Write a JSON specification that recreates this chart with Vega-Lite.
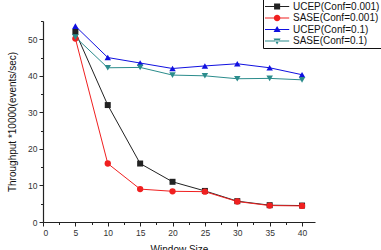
{
  "$schema": "https://vega.github.io/schema/vega-lite/v6.json",
  "width": 272,
  "height": 201,
  "autosize": {"type": "none"},
  "padding": {"left": 43, "top": 21, "right": 66, "bottom": 28},
  "background": "white",
  "config": {
    "view": {"stroke": null},
    "font": "Liberation Sans",
    "legend": {"strokeColor": "#111", "fillColor": "white", "strokeWidth": 1},
    "axis": {
      "grid": false,
      "domainColor": "#222",
      "domainWidth": 1.2,
      "tickColor": "#222",
      "labelColor": "#333",
      "labelFontSize": 8.5,
      "titleFontSize": 10,
      "titleFontWeight": "normal",
      "titleColor": "#111"
    }
  },
  "data": {
    "values": [
      {"series": "UCEP(Conf=0.001)", "window": 5, "throughput": 52.0},
      {"series": "UCEP(Conf=0.001)", "window": 10, "throughput": 32.0},
      {"series": "UCEP(Conf=0.001)", "window": 15, "throughput": 16.0},
      {"series": "UCEP(Conf=0.001)", "window": 20, "throughput": 11.0},
      {"series": "UCEP(Conf=0.001)", "window": 25, "throughput": 8.5},
      {"series": "UCEP(Conf=0.001)", "window": 30, "throughput": 5.7},
      {"series": "UCEP(Conf=0.001)", "window": 35, "throughput": 4.6},
      {"series": "UCEP(Conf=0.001)", "window": 40, "throughput": 4.5},
      {"series": "SASE(Conf=0.001)", "window": 5, "throughput": 50.2},
      {"series": "SASE(Conf=0.001)", "window": 10, "throughput": 16.0},
      {"series": "SASE(Conf=0.001)", "window": 15, "throughput": 9.0},
      {"series": "SASE(Conf=0.001)", "window": 20, "throughput": 8.4},
      {"series": "SASE(Conf=0.001)", "window": 25, "throughput": 8.3},
      {"series": "SASE(Conf=0.001)", "window": 30, "throughput": 5.6},
      {"series": "SASE(Conf=0.001)", "window": 35, "throughput": 4.5},
      {"series": "SASE(Conf=0.001)", "window": 40, "throughput": 4.4},
      {"series": "UCEP(Conf=0.1)", "window": 5, "throughput": 53.6},
      {"series": "UCEP(Conf=0.1)", "window": 10, "throughput": 45.0},
      {"series": "UCEP(Conf=0.1)", "window": 15, "throughput": 43.5},
      {"series": "UCEP(Conf=0.1)", "window": 20, "throughput": 42.0},
      {"series": "UCEP(Conf=0.1)", "window": 25, "throughput": 42.7},
      {"series": "UCEP(Conf=0.1)", "window": 30, "throughput": 43.3},
      {"series": "UCEP(Conf=0.1)", "window": 35, "throughput": 42.2},
      {"series": "UCEP(Conf=0.1)", "window": 40, "throughput": 40.3},
      {"series": "SASE(Conf=0.1)", "window": 5, "throughput": 50.6},
      {"series": "SASE(Conf=0.1)", "window": 10, "throughput": 42.2},
      {"series": "SASE(Conf=0.1)", "window": 15, "throughput": 42.3},
      {"series": "SASE(Conf=0.1)", "window": 20, "throughput": 40.2},
      {"series": "SASE(Conf=0.1)", "window": 25, "throughput": 40.0},
      {"series": "SASE(Conf=0.1)", "window": 30, "throughput": 39.2},
      {"series": "SASE(Conf=0.1)", "window": 35, "throughput": 39.3},
      {"series": "SASE(Conf=0.1)", "window": 40, "throughput": 38.9}
    ]
  },
  "resolve": {"axis": {"x": "independent", "y": "independent"}},
  "layer": [
    {
      "mark": {"type": "line", "strokeWidth": 1},
      "encoding": {
        "x": {
          "field": "window", "type": "quantitative",
          "scale": {"domain": [0, 42], "nice": false, "zero": false},
          "axis": {"orient": "bottom", "values": [0, 5, 10, 15, 20, 25, 30, 35, 40], "tickSize": 4, "labelPadding": 2, "title": "Window Size", "titlePadding": 8}
        },
        "y": {
          "field": "throughput", "type": "quantitative",
          "scale": {"domain": [0, 55], "nice": false},
          "axis": {"orient": "left", "values": [0, 10, 20, 30, 40, 50], "tickSize": 4, "labelPadding": 2, "title": "Throughput *10000(events/sec)", "titlePadding": 10}
        },
        "color": {
          "field": "series", "type": "nominal",
          "scale": {
            "domain": ["UCEP(Conf=0.001)", "SASE(Conf=0.001)", "UCEP(Conf=0.1)", "SASE(Conf=0.1)"],
            "range": ["#222222", "#f02020", "#1010e0", "#2b8c8c"]
          },
          "legend": {
            "title": null,
            "orient": "none",
            "legendX": 220,
            "legendY": -22,
            "direction": "vertical",
            "strokeColor": "#111",
            "fillColor": "white",
            "padding": 2,
            "cornerRadius": 0,
            "symbolSize": 121,
            "symbolStrokeWidth": 0,
            "labelFontSize": 10,
            "labelColor": "#111",
            "labelOffset": 17,
            "rowPadding": 0.5
          }
        },
        "detail": {"field": "series"}
      }
    },
    {
      "transform": [{"filter": "false"}],
      "mark": {"type": "point", "filled": true, "opacity": 1},
      "encoding": {
        "x": {
          "field": "window", "type": "quantitative",
          "axis": {"orient": "bottom", "values": [2.5, 7.5, 12.5, 17.5, 22.5, 27.5, 32.5, 37.5], "tickSize": 2.5, "labels": false, "domain": false, "title": null}
        },
        "y": {
          "field": "throughput", "type": "quantitative",
          "axis": {"orient": "left", "values": [5, 15, 25, 35, 45, 55], "tickSize": 2.5, "labels": false, "domain": false, "title": null}
        },
        "color": {"field": "series", "type": "nominal"},
        "shape": {
          "field": "series", "type": "nominal",
          "scale": {
            "domain": ["UCEP(Conf=0.001)", "SASE(Conf=0.001)", "UCEP(Conf=0.1)", "SASE(Conf=0.1)"],
            "range": [
              "M-1,-0.09H3.4V0.09H-1Z M0.65,-0.55H1.75V0.55H0.65Z",
              "M-1,-0.09H3.4V0.09H-1Z M1.8,0A0.6,0.6 0 1,1 0.6,0A0.6,0.6 0 1,1 1.8,0Z",
              "M-1,-0.09H3.4V0.09H-1Z M1.2,-0.62L1.85,0.45H0.55Z",
              "M-1,-0.09H3.4V0.09H-1Z M1.2,0.62L1.85,-0.45H0.55Z"
            ]
          },
          "legend": {
            "title": null,
            "orient": "none",
            "legendX": 220,
            "legendY": -22,
            "direction": "vertical",
            "strokeColor": "#111",
            "fillColor": "white",
            "padding": 2,
            "cornerRadius": 0,
            "symbolSize": 121,
            "symbolStrokeWidth": 0,
            "labelFontSize": 10,
            "labelColor": "#111",
            "labelOffset": 17,
            "rowPadding": 0.5
          }
        }
      }
    },
    {
      "transform": [{"filter": "datum.series === 'UCEP(Conf=0.001)'"}],
      "mark": {"type": "point", "filled": true, "opacity": 1, "size": 36, "shape": "square"},
      "encoding": {
        "x": {"field": "window", "type": "quantitative", "axis": null},
        "y": {"field": "throughput", "type": "quantitative", "axis": null},
        "color": {"field": "series", "type": "nominal"}
      }
    },
    {
      "transform": [{"filter": "datum.series === 'SASE(Conf=0.001)'"}],
      "mark": {"type": "point", "filled": true, "opacity": 1, "size": 40, "shape": "circle"},
      "encoding": {
        "x": {"field": "window", "type": "quantitative", "axis": null},
        "y": {"field": "throughput", "type": "quantitative", "axis": null},
        "color": {"field": "series", "type": "nominal"}
      }
    },
    {
      "transform": [{"filter": "datum.series === 'UCEP(Conf=0.1)'"}],
      "mark": {"type": "point", "filled": true, "opacity": 1, "size": 42, "shape": "triangle-up"},
      "encoding": {
        "x": {"field": "window", "type": "quantitative", "axis": null},
        "y": {"field": "throughput", "type": "quantitative", "axis": null},
        "color": {"field": "series", "type": "nominal"}
      }
    },
    {
      "transform": [{"filter": "datum.series === 'SASE(Conf=0.1)'"}],
      "mark": {"type": "point", "filled": true, "opacity": 1, "size": 42, "shape": "triangle-down"},
      "encoding": {
        "x": {"field": "window", "type": "quantitative", "axis": null},
        "y": {"field": "throughput", "type": "quantitative", "axis": null},
        "color": {"field": "series", "type": "nominal"}
      }
    }
  ]
}
